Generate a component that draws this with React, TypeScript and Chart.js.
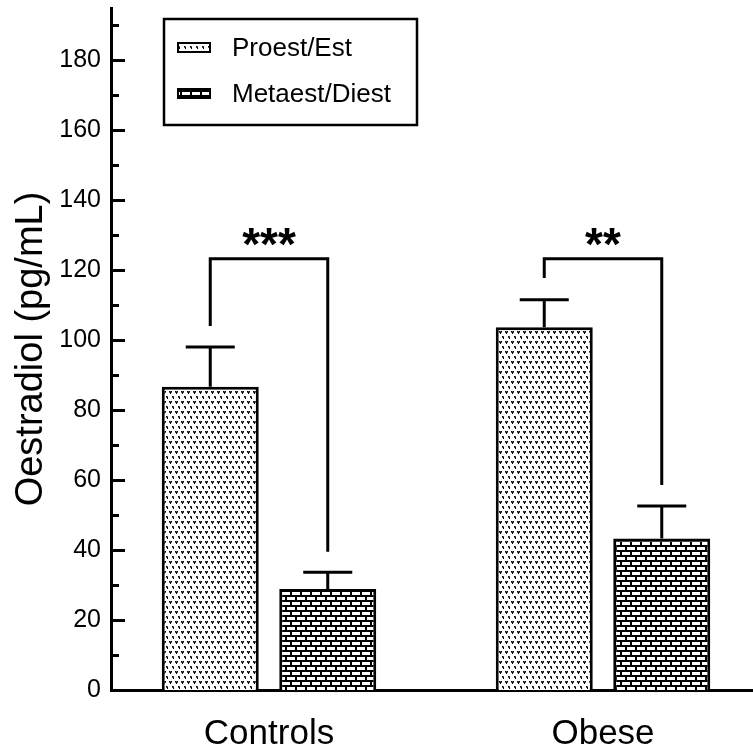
import React, { useEffect, useRef } from "react";
import { Chart, registerables } from "chart.js";

Chart.register(...registerables);

const categories = ["Controls", "Obese"];
const seriesLabels = ["Proest/Est", "Metaest/Diest"];
const proestMeans = [86.7, 103.7];
const proestErrors = [11.4, 7.9];
const metaestMeans = [28.9, 43.3];
const metaestErrors = [4.8, 9.3];
const yAxisTitle = "Oestradiol (pg/mL)";
const yMin = 0;
const yMax = 195;
const yMinorStep = 10;
const yMajorStep = 20;
const bracketTops = [123.3, 123.3];
const bracketLeftEnds = [104.1, 117.8];
const bracketRightEnds = [39.5, 58.6];
const significance = ["***", "**"];
const significanceLevel = 130.5;

const FONT = "'Liberation Sans', Arial, Helvetica, sans-serif";

function makeDotPattern(): CanvasPattern | string {
  const c = document.createElement("canvas");
  c.width = 6;
  c.height = 10;
  const g = c.getContext("2d");
  if (!g) return "#ccc";
  g.fillStyle = "#fff";
  g.fillRect(0, 0, 6, 10);
  const mark = (ox: number, oy: number) => {
    g.fillStyle = "#000";
    g.fillRect(ox, oy, 1, 1);
    g.fillRect(ox + 2, oy, 1, 1);
    g.fillRect(ox + 1, oy + 1, 1, 1);
    g.fillRect(ox + 1, oy + 2, 1, 1);
    g.fillStyle = "#555";
    g.fillRect(ox + 1, oy, 1, 1);
    g.fillRect(ox, oy + 1, 1, 1);
    g.fillRect(ox + 2, oy + 1, 1, 1);
  };
  mark(1, 1);
  mark(4, 6);
  return g.createPattern(c, "repeat") || "#ccc";
}

function makeBrickPattern(): CanvasPattern | string {
  const c = document.createElement("canvas");
  c.width = 10;
  c.height = 10;
  const g = c.getContext("2d");
  if (!g) return "#555";
  g.fillStyle = "#000";
  g.fillRect(0, 0, 10, 10);
  g.fillStyle = "#fff";
  g.fillRect(2, 2, 8, 3);
  g.fillRect(7, 7, 3, 3);
  g.fillRect(0, 7, 5, 3);
  return g.createPattern(c, "repeat") || "#555";
}

export default function App() {
  const canvasRef = useRef<HTMLCanvasElement | null>(null);

  useEffect(() => {
    const canvas = canvasRef.current;
    if (!canvas) return;
    const dotPattern = makeDotPattern();
    const brickPattern = makeBrickPattern();
    const errors = [proestErrors, metaestErrors];

    const shiftPlugin = {
      id: "shiftY",
      afterLayout(chart: any) {
        const y = chart.scales.y;
        const x = chart.scales.x;
        y.left += 9;
        y.right += 9;
        x.left += 9;
      },
    };

    const decoPlugin = {
      id: "deco",
      afterDatasetsDraw(chart: any) {
        const ctx = chart.ctx;
        const ys = chart.scales.y;
        ctx.save();
        ctx.strokeStyle = "#000";
        ctx.lineWidth = 3;
        ctx.lineCap = "butt";
        // inward tick marks
        for (let v = yMin; v <= yMax; v += yMinorStep) {
          const py = Math.round(ys.getPixelForValue(v)) + 0.5;
          const len = v % yMajorStep === 0 ? 14 : 8;
          ctx.beginPath();
          ctx.moveTo(ys.right, py);
          ctx.lineTo(ys.right + len, py);
          ctx.stroke();
        }
        // error bars
        chart.data.datasets.forEach((ds: any, di: number) => {
          const meta = chart.getDatasetMeta(di);
          meta.data.forEach((el: any, j: number) => {
            const top = ys.getPixelForValue(ds.data[j] + errors[di][j]);
            ctx.beginPath();
            ctx.moveTo(el.x, el.y);
            ctx.lineTo(el.x, top);
            ctx.moveTo(el.x - 24.5, top);
            ctx.lineTo(el.x + 24.5, top);
            ctx.stroke();
          });
        });
        // significance brackets
        const m0 = chart.getDatasetMeta(0);
        const m1 = chart.getDatasetMeta(1);
        categories.forEach((_c, j) => {
          const xl = m0.data[j].x;
          const xr = m1.data[j].x;
          const yt = ys.getPixelForValue(bracketTops[j]);
          ctx.beginPath();
          ctx.moveTo(xl, ys.getPixelForValue(bracketLeftEnds[j]));
          ctx.lineTo(xl, yt);
          ctx.lineTo(xr, yt);
          ctx.lineTo(xr, ys.getPixelForValue(bracketRightEnds[j]));
          ctx.stroke();
          const fs = 46;
          ctx.font = `bold ${fs}px ${FONT}`;
          ctx.fillStyle = "#000";
          ctx.textAlign = "center";
          ctx.textBaseline = "alphabetic";
          const sy = ys.getPixelForValue(significanceLevel);
          ctx.fillText(significance[j], (xl + xr) / 2, sy + 0.573 * fs);
        });
        ctx.restore();
      },
      afterDraw(chart: any) {
        const ctx = chart.ctx;
        ctx.save();
        ctx.strokeStyle = "#000";
        ctx.lineWidth = 2.5;
        ctx.strokeRect(164, 19, 253, 106);
        const items = chart.data.datasets;
        items.forEach((ds: any, i: number) => {
          const cy = 47 + i * 46;
          ctx.fillStyle = ds.backgroundColor;
          ctx.fillRect(178, cy - 4, 32, 9);
          ctx.lineWidth = 2;
          ctx.strokeRect(178, cy - 4, 32, 9);
          ctx.fillStyle = "#000";
          ctx.font = `26px ${FONT}`;
          ctx.textAlign = "left";
          ctx.textBaseline = "middle";
          ctx.fillText(ds.label, 232, cy + 2);
        });
        ctx.restore();
      },
    };

    const chart = new Chart(canvas, {
      type: "bar",
      data: {
        labels: categories,
        datasets: [
          {
            label: seriesLabels[0],
            data: proestMeans,
            backgroundColor: dotPattern as any,
            borderColor: "#000",
            borderWidth: 3,
            categoryPercentage: 0.7036,
            barPercentage: 0.8255,
          },
          {
            label: seriesLabels[1],
            data: metaestMeans,
            backgroundColor: brickPattern as any,
            borderColor: "#000",
            borderWidth: 3,
            categoryPercentage: 0.7036,
            barPercentage: 0.8255,
          },
        ],
      },
      options: {
        animation: false,
        responsive: false,
        layout: { padding: { top: 8, left: 0, right: 0, bottom: 0 } },
        plugins: {
          legend: { display: false },
          tooltip: { enabled: false },
        },
        scales: {
          x: {
            type: "category",
            offset: true,
            grid: { display: false, drawTicks: false },
            border: { display: true, color: "#000", width: 3 },
            ticks: {
              color: "#000",
              font: { family: FONT, size: 35 },
              padding: 23,
              maxRotation: 0,
            },
            afterFit: (s: any) => {
              s.height = 63;
              s.paddingLeft = 0;
              s.paddingRight = 0;
            },
          },
          y: {
            type: "linear",
            min: yMin,
            max: yMax,
            grid: { display: false, drawTicks: false },
            border: { display: true, color: "#000", width: 3 },
            ticks: {
              stepSize: yMinorStep,
              includeBounds: false,
              color: "#000",
              font: { family: FONT, size: 25 },
              padding: 10,
              callback: (v: any) => (Number(v) % yMajorStep === 0 ? String(v) : ""),
            },
            title: {
              display: true,
              text: yAxisTitle,
              color: "#000",
              font: { family: FONT, size: 38 },
              padding: { top: 0, bottom: 0 },
            },
            afterFit: (s: any) => {
              s.width = 102;
              s.paddingTop = 0;
              s.paddingBottom = 0;
            },
          },
        },
      },
      plugins: [shiftPlugin, decoPlugin],
    });
    return () => chart.destroy();
  }, []);

  return (
    <div
      style={{
        position: "absolute",
        left: 0,
        top: 0,
        width: 753,
        height: 753,
        overflow: "hidden",
        background: "#fff",
      }}
    >
      <canvas ref={canvasRef} width={770} height={753} style={{ display: "block" }} />
    </div>
  );
}
